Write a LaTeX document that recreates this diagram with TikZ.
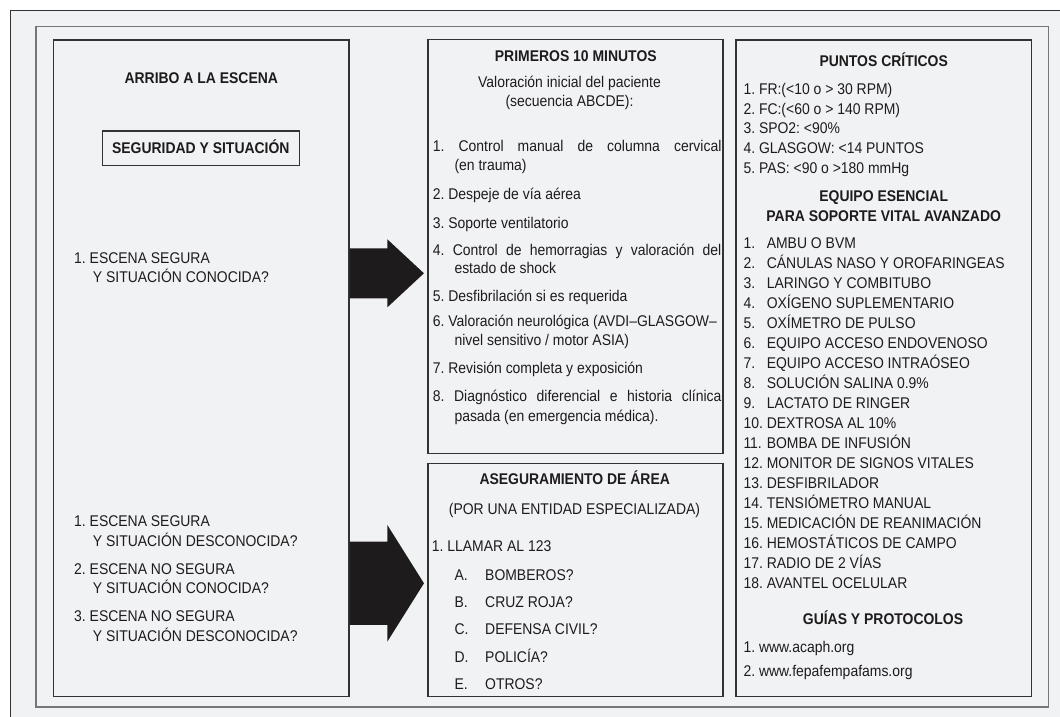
\documentclass[tikz,border=0pt]{standalone}
\usepackage{fontspec}
\setmainfont{Liberation Sans}[FakeStretch=0.9]
\usetikzlibrary{positioning}

\definecolor{fondo}{RGB}{241,242,244}
\definecolor{linea}{RGB}{51,51,51}
\definecolor{marco}{RGB}{118,118,118}
\definecolor{tinta}{RGB}{30,27,28}

\begin{document}
\frenchspacing
\begin{tikzpicture}[x=1pt, y=-1pt,
  panel/.style={draw=linea, line width=1.2pt, fill=fondo, inner sep=0pt},
  txt/.style={anchor=base west, inner sep=0pt, text=tinta, font=\fontsize{15.5}{19.5}\selectfont},
  mid/.style={txt, anchor=base},
  ttl/.style={mid, font=\fontsize{15.5}{19.5}\selectfont\bfseries},
  blockarrow/.style={fill=tinta}]
  \useasboundingbox (0,0) rectangle (1060,717);

  % Frames
  \fill[white] (0,0) rectangle (1060,717);
  \fill[fondo] (10.7,717) |- (1060,10) -- (1060,717) -- cycle;
  \draw[linea, line width=0.9pt] (10.7,717) |- (1060,10);
  \draw[marco, line width=1.6pt] (35.7,26.7) rectangle (1048.3,706.7);

  % Boxes
  \node[panel, minimum width=295.7pt, minimum height=656.7pt] (Arribo) at (201.2,368.4) {};
  \node[panel, minimum width=295pt, minimum height=413.7pt] (Prim) at (575.5,246.4) {};
  \node[panel, minimum width=295pt, minimum height=233.4pt] (Aseg) at (575.5,580) {};
  \node[panel, minimum width=295.3pt, minimum height=656.7pt] (Puntos) at (883.7,368.4) {};

  % Arribo a la escena
  \node[ttl] (tArribo) at (201.3,83) {ARRIBO A LA ESCENA};
  \node[panel, minimum width=197pt, minimum height=34.7pt, text height=11pt, text depth=0pt,
        text=tinta, font=\fontsize{15.5}{19.5}\selectfont\bfseries] (Seg) at (200.8,148.3) {SEGURIDAD Y SITUACIÓN};
  \node[txt] (e1) at (74,263.3) {1. ESCENA SEGURA};
  \node[txt] (e1b) at (92.7,282.7) {Y SITUACIÓN CONOCIDA?};
  \foreach \a/\b [count=\i] in {SEGURA/DESCONOCIDA, NO SEGURA/CONOCIDA, NO SEGURA/DESCONOCIDA} {
    \node[txt] (f\i) at (74,479.3+47.5*\i) {\i. ESCENA \a};
    \node[txt] (g\i) at (92.7,498.5+47.5*\i) {Y SITUACIÓN \b?};
  }

  % Primeros 10 minutos
  \node[ttl] (tPrim) at (575.8,61.7) {PRIMEROS 10 MINUTOS};
  \node[mid] (v1) at (569.5,87) {Valoración inicial del paciente};
  \node[mid] (v2) at (569.5,106.3) {(secuencia ABCDE):};
  \node[txt] (m1) at (432.7,151) {\makebox[288.5pt][s]{1. Control manual de columna cervical}};
  \node[txt] (m1b) at (454.3,170) {(en trauma)};
  \node[txt] (m2) at (432.7,199.5) {2. Despeje de vía aérea};
  \node[txt] (m3) at (432.7,228) {3. Soporte ventilatorio};
  \node[txt] (m4) at (432.7,255) {\makebox[288.5pt][s]{4. Control de hemorragias y valoración del}};
  \node[txt] (m4b) at (454.3,273.5) {estado de shock};
  \node[txt] (m5) at (432.7,301) {5. Desfibrilación si es requerida};
  \node[txt] (m6) at (432.7,326) {6. Valoración neurológica (AVDI–GLASGOW–};
  \node[txt] (m6b) at (454.3,345) {nivel sensitivo / motor ASIA)};
  \node[txt] (m7) at (432.7,373) {7. Revisión completa y exposición};
  \node[txt] (m8) at (432.7,401.5) {\makebox[288.5pt][s]{8. Diagnóstico diferencial e historia clínica}};
  \node[txt] (m8b) at (454.3,421) {pasada (en emergencia médica).};

  % Aseguramiento de area
  \node[ttl] (tAseg) at (574.7,484) {ASEGURAMIENTO DE ÁREA};
  \node[mid] (porUna) at (574.5,514) {(POR UNA ENTIDAD ESPECIALIZADA)};
  \node[txt] (llamar) at (431.7,551.7) {1. LLAMAR AL 123};
  \foreach \l/\t [count=\i] in {A/BOMBEROS, B/CRUZ ROJA, C/DEFENSA CIVIL, D/POLICÍA, E/OTROS}
    \node[txt] (ent\i) at (454.3,553+27.3*\i) {\makebox[30.7pt][l]{\l.}\t?};

  % Puntos criticos
  \node[ttl] (tPuntos) at (883.7,66.7) {PUNTOS CRÍTICOS};
  \foreach \t [count=\i] in {FR:(<10 o > 30 RPM), FC:(<60 o > 140 RPM), SPO2: <90\%,
      GLASGOW: <14 PUNTOS, PAS: <90 o >180 mmHg}
    \node[txt] (pc\i) at (743.3,74.5+19.8*\i) {\i. \t};
  \node[ttl] (tEquipo) at (883.7,201) {EQUIPO ESENCIAL};
  \node[ttl] (tSoporte) at (883.7,221.7) {PARA SOPORTE VITAL AVANZADO};
  \foreach \t [count=\i] in {AMBU O BVM, CÁNULAS NASO Y OROFARINGEAS, LARINGO Y COMBITUBO,
      OXÍGENO SUPLEMENTARIO, OXÍMETRO DE PULSO, EQUIPO ACCESO ENDOVENOSO,
      EQUIPO ACCESO INTRAÓSEO, SOLUCIÓN SALINA 0.9\%, LACTATO DE RINGER, DEXTROSA AL 10\%,
      BOMBA DE INFUSIÓN, MONITOR DE SIGNOS VITALES, DESFIBRILADOR, TENSIÓMETRO MANUAL,
      MEDICACIÓN DE REANIMACIÓN, HEMOSTÁTICOS DE CAMPO, RADIO DE 2 VÍAS, AVANTEL OCELULAR}
    \node[txt] (eq\i) at (743.3,228.3+20*\i) {\makebox[23.3pt][l]{\i.}\t};
  \node[ttl] (tGuias) at (883,624) {GUÍAS Y PROTOCOLOS};
  \node[txt] (gp1) at (743.3,652.3) {1. www.acaph.org};
  \node[txt] (gp2) at (743.3,676.7) {2. www.fepafempafams.org};

  % Arrows
  \coordinate (a1) at (Arribo.east |- 0,273.3);
  \coordinate (a2) at (Arribo.east |- 0,583.3);
  \fill[blockarrow] (a1) ++(0,-25) -- ++(37.7,0) -- ++(0,-9) -- ++(36.6,34)
    -- ++(-36.6,34) -- ++(0,-9) -- ++(-37.7,0) -- cycle;
  \fill[blockarrow] (a2) ++(0,-41.6) -- ++(37.7,0) -- ++(0,-16.7) -- ++(36.6,58.3)
    -- ++(-36.6,58.3) -- ++(0,-16.7) -- ++(-37.7,0) -- cycle;
\end{tikzpicture}
\end{document}
